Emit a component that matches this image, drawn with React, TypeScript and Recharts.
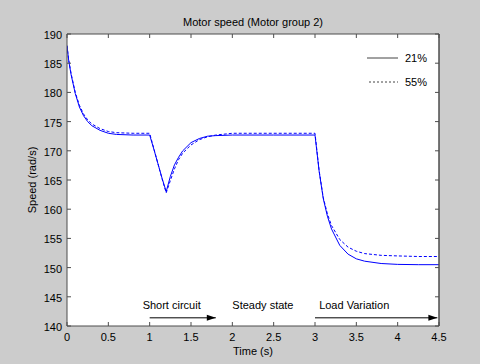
import React from 'react';
import { LineChart, Line, XAxis, YAxis, CartesianGrid, ReferenceDot, ReferenceLine } from 'recharts';

const times = [0, 0.02, 0.05, 0.1, 0.15, 0.2, 0.25, 0.3, 0.4, 0.5, 0.6, 0.8, 1.0,
  1.05, 1.1, 1.15, 1.2, 1.25, 1.3, 1.35, 1.4, 1.5, 1.6, 1.7, 1.8, 2.0, 2.5,
  3.0, 3.05, 3.1, 3.15, 3.2, 3.3, 3.4, 3.5, 3.6, 3.8, 4.0, 4.25, 4.5];
const speed21 = [188.0, 185.5, 183.0, 179.8, 177.5, 176.0, 175.0, 174.3, 173.5, 173.0, 172.8, 172.7, 172.7,
  170.3, 167.8, 165.3, 163.0, 165.6, 167.6, 168.9, 170.0, 171.4, 172.1, 172.5, 172.6, 172.7, 172.7,
  172.7, 166.5, 161.8, 158.8, 156.6, 153.8, 152.3, 151.5, 151.1, 150.7, 150.55, 150.5, 150.5];
const speed55 = [188.0, 185.6, 183.2, 180.0, 177.8, 176.3, 175.3, 174.6, 173.8, 173.3, 173.1, 173.0, 173.0,
  170.4, 167.8, 165.2, 162.8, 164.9, 166.9, 168.5, 169.6, 171.0, 171.9, 172.4, 172.7, 173.0, 173.0,
  173.0, 166.6, 162.0, 159.2, 157.2, 154.8, 153.5, 152.8, 152.4, 152.1, 152.0, 151.9, 151.9];

const xTicks = [0, 0.5, 1, 1.5, 2, 2.5, 3, 3.5, 4, 4.5];
const yTicks = [140, 145, 150, 155, 160, 165, 170, 175, 180, 185, 190];
const seriesNames = ['21%', '55%'];
const title = 'Motor speed (Motor group 2)';
const xLabel = 'Time (s)';
const yLabel = 'Speed (rad/s)';

const annotations = [
  { text: 'Short circuit', x: 0.915, y: 142.9 },
  { text: 'Steady state', x: 2.0, y: 142.9 },
  { text: 'Load Variation', x: 3.05, y: 142.9 },
];
const arrows = [
  { x1: 1.0, x2: 1.8, y: 141.4 },
  { x1: 3.0, x2: 4.48, y: 141.4 },
];

const data = times.map((t, i) => ({ t, s21: speed21[i], s55: speed55[i] }));

const W = 480, H = 364;
const LEFT = 67, RIGHT_W = 41, TOP = 34, BOTTOM_H = 38;
const PLOT_RIGHT = W - RIGHT_W;
const PLOT_BOTTOM = H - BOTTOM_H;
const FONT = '"Liberation Sans", Arial, sans-serif';
const AXIS = '#4d4d4d';
const TL = 4;

const BottomTick = (p: any) => (
  <g>
    <line x1={p.x} x2={p.x} y1={PLOT_BOTTOM} y2={PLOT_BOTTOM - TL} stroke={AXIS} />
    <text x={p.x} y={PLOT_BOTTOM + 11} textAnchor="middle" dominantBaseline="central" fontSize={11} fontFamily={FONT} fill="#000">{p.payload.value}</text>
  </g>
);
const TopTick = (p: any) => (
  <line x1={p.x} x2={p.x} y1={TOP} y2={TOP + TL} stroke={AXIS} />
);
const LeftTick = (p: any) => (
  <g>
    <line x1={LEFT} x2={LEFT + TL} y1={p.y} y2={p.y} stroke={AXIS} />
    <text x={LEFT - 5} y={p.y + 1} textAnchor="end" dominantBaseline="central" fontSize={11} fontFamily={FONT} fill="#000">{p.payload.value}</text>
  </g>
);
const RightTick = (p: any) => (
  <line x1={PLOT_RIGHT} x2={PLOT_RIGHT - TL} y1={p.y} y2={p.y} stroke={AXIS} />
);

export default function App() {
  return (
    <div style={{ position: 'fixed', left: 0, top: 0, width: W, height: H, background: '#cccccc', fontFamily: FONT }}>
      <LineChart width={W} height={H} data={data} margin={{ top: 0, right: 0, bottom: 0, left: 0 }}>
        <CartesianGrid fill="#ffffff" stroke="none" />
        <XAxis dataKey="t" type="number" domain={[0, 4.5]} ticks={xTicks} height={BOTTOM_H}
          axisLine={{ stroke: AXIS }} tickLine={false} tick={BottomTick} interval={0} allowDataOverflow />
        <XAxis xAxisId="top" orientation="top" dataKey="t" type="number" domain={[0, 4.5]} ticks={xTicks} height={TOP}
          axisLine={{ stroke: AXIS }} tickLine={false} tick={TopTick} interval={0} allowDataOverflow />
        <YAxis type="number" domain={[140, 190]} ticks={yTicks} width={LEFT}
          axisLine={{ stroke: AXIS }} tickLine={false} tick={LeftTick} interval={0} allowDataOverflow />
        <YAxis yAxisId="right" orientation="right" type="number" domain={[140, 190]} ticks={yTicks} width={RIGHT_W}
          axisLine={{ stroke: AXIS, strokeWidth: 1.5 }} tickLine={false} tick={RightTick} interval={0} allowDataOverflow />
        <Line dataKey="s55" name={seriesNames[1]} stroke="#0000ff" strokeWidth={1} strokeDasharray="3 2" dot={false} isAnimationActive={false} type="linear" />
        <Line dataKey="s21" name={seriesNames[0]} stroke="#0000ff" strokeWidth={1} dot={false} isAnimationActive={false} type="linear" />
        {arrows.map((a, i) => (
          <ReferenceLine key={'al' + i} segment={[{ x: a.x1, y: a.y }, { x: a.x2, y: a.y }]} stroke="#000" strokeWidth={1} ifOverflow="visible" />
        ))}
        {arrows.map((a, i) => (
          <ReferenceDot key={'ah' + i} x={a.x2} y={a.y} r={0} ifOverflow="visible"
            shape={(p: any) => <polygon points={`${p.cx},${p.cy} ${p.cx - 9},${p.cy - 3} ${p.cx - 9},${p.cy + 3}`} fill="#000" />} />
        ))}
        {annotations.map((a, i) => (
          <ReferenceDot key={'tx' + i} x={a.x} y={a.y} r={0} ifOverflow="visible"
            shape={(p: any) => <text x={p.cx} y={p.cy} fontSize={11} fontFamily={FONT} fill="#000" textAnchor="start">{a.text}</text>} />
        ))}
      </LineChart>
      <div style={{ position: 'absolute', left: 0, width: W, top: 15, textAlign: 'center', fontSize: 11, lineHeight: '14px', color: '#000', paddingLeft: 26, boxSizing: 'border-box' }}>{title}</div>
      <div style={{ position: 'absolute', left: 0, width: W, top: 344, textAlign: 'center', fontSize: 11, lineHeight: '14px', color: '#000', paddingLeft: 26, boxSizing: 'border-box' }}>{xLabel}</div>
      <div style={{ position: 'absolute', left: 32, top: 180, transform: 'translate(-50%, -50%) rotate(-90deg)', fontSize: 11, lineHeight: '14px', whiteSpace: 'nowrap', color: '#000' }}>{yLabel}</div>
      <svg style={{ position: 'absolute', left: 360, top: 48 }} width={75} height={45}>
        <line x1={7} x2={38} y1={10} y2={10} stroke="#444" strokeWidth={1} />
        <text x={45} y={10} dominantBaseline="central" fontSize={11} fontFamily={FONT} fill="#000">{seriesNames[0]}</text>
        <line x1={9} x2={38} y1={34} y2={34} stroke="#444" strokeWidth={1} strokeDasharray="2 2" />
        <text x={45} y={34} dominantBaseline="central" fontSize={11} fontFamily={FONT} fill="#000">{seriesNames[1]}</text>
      </svg>
    </div>
  );
}
